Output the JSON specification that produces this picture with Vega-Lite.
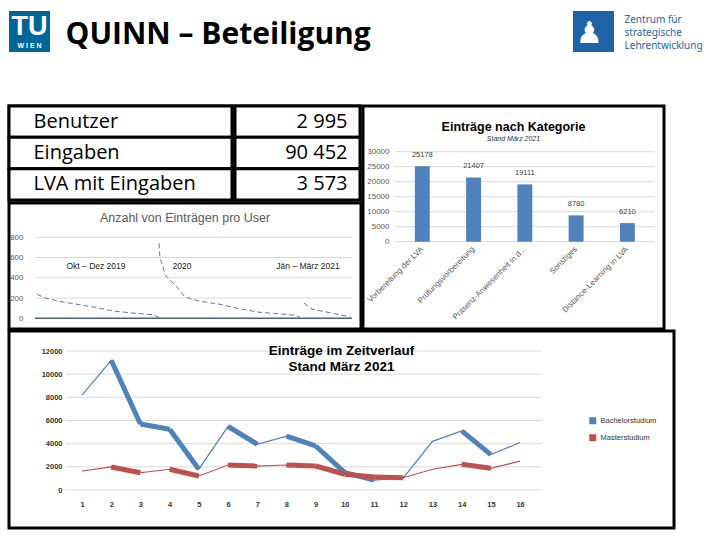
{
  "$schema": "https://vega.github.io/schema/vega-lite/v6.json",
  "background": "white",
  "padding": {"left": 6, "top": 11, "right": 5, "bottom": 5},
  "spacing": 51,
  "config": {
    "view": {"stroke": "black", "strokeWidth": 3},
    "font": "Liberation Sans",
    "axis": {"domain": false, "ticks": false, "tickSize": 0, "grid": false, "title": null, "labelColor": "#595959", "labelOverlap": false, "labelFont": "Liberation Sans"}
  },
  "datasets": {
    "table": [
      {"label": "Benutzer", "value": "2 995"},
      {"label": "Eingaben", "value": "90 452"},
      {"label": "LVA mit Eingaben", "value": "3 573"}
    ],
    "users": [
      {"seg": "Okt – Dez 2019", "rank": 0, "n": 238},
      {"seg": "Okt – Dez 2019", "rank": 8, "n": 201},
      {"seg": "Okt – Dez 2019", "rank": 22, "n": 168},
      {"seg": "Okt – Dez 2019", "rank": 38, "n": 142},
      {"seg": "Okt – Dez 2019", "rank": 58, "n": 109},
      {"seg": "Okt – Dez 2019", "rank": 78, "n": 69},
      {"seg": "Okt – Dez 2019", "rank": 98, "n": 50},
      {"seg": "Okt – Dez 2019", "rank": 115, "n": 36},
      {"seg": "Okt – Dez 2019", "rank": 122, "n": 10},
      {"seg": "2020", "rank": 122, "n": 740},
      {"seg": "2020", "rank": 123, "n": 590},
      {"seg": "2020", "rank": 125, "n": 540},
      {"seg": "2020", "rank": 128, "n": 430},
      {"seg": "2020", "rank": 140, "n": 310},
      {"seg": "2020", "rank": 148, "n": 210},
      {"seg": "2020", "rank": 162, "n": 170},
      {"seg": "2020", "rank": 182, "n": 140},
      {"seg": "2020", "rank": 202, "n": 95},
      {"seg": "2020", "rank": 222, "n": 60},
      {"seg": "2020", "rank": 242, "n": 45},
      {"seg": "2020", "rank": 258, "n": 30},
      {"seg": "2020", "rank": 263, "n": 10},
      {"seg": "Jän – März 2021", "rank": 267, "n": 150},
      {"seg": "Jän – März 2021", "rank": 275, "n": 90},
      {"seg": "Jän – März 2021", "rank": 288, "n": 65},
      {"seg": "Jän – März 2021", "rank": 305, "n": 30},
      {"seg": "Jän – März 2021", "rank": 313, "n": 15}
    ],
    "userLabels": [
      {"label": "Okt – Dez 2019", "rank": 59, "n": 520},
      {"label": "2020", "rank": 145, "n": 520},
      {"label": "Jän – März 2021", "rank": 271, "n": 520}
    ],
    "gridU": [{"g": 0}, {"g": 200}, {"g": 400}, {"g": 600}, {"g": 800}],
    "kat": [
      {"cat": "Vorbereitung der LVA", "val": 25178},
      {"cat": "Prüfungsvorbereitung", "val": 21407},
      {"cat": "Präsenz-Anwesenheit in d...", "val": 19111},
      {"cat": "Sonstiges", "val": 8780},
      {"cat": "Distance-Learning in LVA", "val": 6210}
    ],
    "gridB": [{"g": 0}, {"g": 5000}, {"g": 10000}, {"g": 15000}, {"g": 20000}, {"g": 25000}, {"g": 30000}],
    "gridT": [{"g": 0}, {"g": 2000}, {"g": 4000}, {"g": 6000}, {"g": 8000}, {"g": 10000}, {"g": 12000}],
    "zeit": [
      {"k": 1, "series": "Bachelorstudium", "v": 8200},
      {"k": 2, "series": "Bachelorstudium", "v": 11200},
      {"k": 3, "series": "Bachelorstudium", "v": 5700},
      {"k": 4, "series": "Bachelorstudium", "v": 5250},
      {"k": 5, "series": "Bachelorstudium", "v": 1800},
      {"k": 6, "series": "Bachelorstudium", "v": 5500},
      {"k": 7, "series": "Bachelorstudium", "v": 3950},
      {"k": 8, "series": "Bachelorstudium", "v": 4650},
      {"k": 9, "series": "Bachelorstudium", "v": 3800},
      {"k": 10, "series": "Bachelorstudium", "v": 1500},
      {"k": 11, "series": "Bachelorstudium", "v": 850},
      {"k": 12, "series": "Bachelorstudium", "v": 1050},
      {"k": 13, "series": "Bachelorstudium", "v": 4200},
      {"k": 14, "series": "Bachelorstudium", "v": 5100},
      {"k": 15, "series": "Bachelorstudium", "v": 3050},
      {"k": 16, "series": "Bachelorstudium", "v": 4100},
      {"k": 1, "series": "Masterstudium", "v": 1640},
      {"k": 2, "series": "Masterstudium", "v": 1990},
      {"k": 3, "series": "Masterstudium", "v": 1490},
      {"k": 4, "series": "Masterstudium", "v": 1790},
      {"k": 5, "series": "Masterstudium", "v": 1210},
      {"k": 6, "series": "Masterstudium", "v": 2160},
      {"k": 7, "series": "Masterstudium", "v": 2070},
      {"k": 8, "series": "Masterstudium", "v": 2160},
      {"k": 9, "series": "Masterstudium", "v": 2070},
      {"k": 10, "series": "Masterstudium", "v": 1360},
      {"k": 11, "series": "Masterstudium", "v": 1120},
      {"k": 12, "series": "Masterstudium", "v": 1060},
      {"k": 13, "series": "Masterstudium", "v": 1790},
      {"k": 14, "series": "Masterstudium", "v": 2220},
      {"k": 15, "series": "Masterstudium", "v": 1870},
      {"k": 16, "series": "Masterstudium", "v": 2500}
    ]
  },
  "vconcat": [
    {
      "hconcat": [
        {
          "width": 41, "height": 41,
          "view": {"fill": "#006699", "stroke": null},
          "data": {"values": [{"a": "TU", "b": "W I E N"}]},
          "layer": [
            {"mark": {"type": "text", "color": "white", "font": "Liberation Sans", "fontWeight": "bold", "fontSize": 27, "baseline": "alphabetic", "dy": 3}, "encoding": {"text": {"field": "a"}}},
            {"mark": {"type": "text", "color": "white", "font": "Liberation Sans", "fontWeight": "bold", "fontSize": 7, "baseline": "alphabetic", "dy": 16}, "encoding": {"text": {"field": "b"}}}
          ]
        },
        {
          "width": 503, "height": 41,
          "view": {"stroke": null},
          "data": {"values": [{"t": "QUINN – Beteiligung"}]},
          "mark": {"type": "text", "align": "left", "baseline": "alphabetic", "dx": -246, "dy": 12, "font": "Open Sans", "fontWeight": "bold", "fontSize": 30, "color": "black"},
          "encoding": {"text": {"field": "t"}}
        },
        {
          "width": 41, "height": 41,
          "view": {"fill": "#1d63a6", "stroke": null},
          "data": {"values": [{"t": "♟"}]},
          "mark": {"type": "text", "color": "white", "font": "DejaVu Sans", "fontSize": 30, "baseline": "middle", "dx": -4, "dy": 2},
          "encoding": {"text": {"field": "t"}}
        },
        {
          "width": 85, "height": 41,
          "view": {"stroke": null},
          "data": {"values": [{"t": "Zentrum für\nstrategische\nLehrentwicklung"}]},
          "mark": {"type": "text", "align": "left", "baseline": "middle", "lineBreak": "\n", "lineHeight": 13, "dx": -45, "dy": -12, "font": "Noto Sans", "fontSize": 10, "color": "#1d63a6"},
          "encoding": {"text": {"field": "t"}}
        }
      ],
      "spacing": 10
    },
    {
      "vconcat": [
        {
          "hconcat": [
            {
              "vconcat": [
                {
                  "hconcat": [
                    {
                      "width": 223, "height": 94,
                      "data": {"name": "table"},
                      "layer": [
                        {"mark": {"type": "rect", "fill": "white", "stroke": "black", "strokeWidth": 3},
                         "encoding": {"y": {"field": "label", "type": "nominal", "sort": null, "axis": null, "scale": {"paddingInner": 0, "paddingOuter": 0}}}},
                        {"mark": {"type": "text", "align": "left", "baseline": "middle", "dx": -87, "font": "Open Sans", "fontSize": 20, "color": "black"},
                         "encoding": {"y": {"field": "label", "type": "nominal", "sort": null, "axis": null}, "text": {"field": "label"}}}
                      ]
                    },
                    {
                      "width": 125, "height": 94,
                      "data": {"name": "table"},
                      "layer": [
                        {"mark": {"type": "rect", "fill": "white", "stroke": "black", "strokeWidth": 3},
                         "encoding": {"y": {"field": "label", "type": "nominal", "sort": null, "axis": null, "scale": {"paddingInner": 0, "paddingOuter": 0}}}},
                        {"mark": {"type": "text", "align": "right", "baseline": "middle", "dx": 50, "font": "Open Sans", "fontSize": 20, "color": "black"},
                         "encoding": {"y": {"field": "label", "type": "nominal", "sort": null, "axis": null}, "text": {"field": "value"}}}
                      ]
                    }
                  ],
                  "spacing": -3
                },
                {
                  "width": 352, "height": 126,
                  "title": {"text": "Anzahl von Einträgen pro User", "font": "Liberation Sans", "fontSize": 12.5, "fontWeight": "normal", "color": "#595959", "offset": -21, "anchor": "middle"},
                  "layer": [
                    {
                      "data": {"name": "gridU"},
                      "mark": {"type": "rule", "color": "#d9d9d9", "strokeWidth": 1},
                      "encoding": {
                        "y": {"field": "g", "type": "quantitative", "scale": {"domain": [-105.7, 1138.8], "nice": false, "zero": false}, "axis": {"values": [0, 200, 400, 600, 800], "format": "d", "offset": -14, "labelPadding": 0, "labelFontSize": 8, "labelOverlap": false, "labelBound": false}},
                        "x": {"datum": -2, "type": "quantitative", "scale": {"domain": [-28, 324], "nice": false, "zero": false}, "axis": null},
                        "x2": {"datum": 315}
                      }
                    },
                    {
                      "data": {"name": "users"},
                      "mark": {"type": "line", "color": "#5a7a96", "strokeWidth": 1, "strokeDash": [5, 3]},
                      "encoding": {
                        "x": {"field": "rank", "type": "quantitative", "scale": {"domain": [-28, 324], "nice": false, "zero": false}, "axis": null},
                        "y": {"field": "n", "type": "quantitative", "scale": {"domain": [-105.7, 1138.8], "nice": false, "zero": false}, "axis": {"values": [0, 200, 400, 600, 800], "format": "d", "offset": -14, "labelPadding": 0, "labelFontSize": 8, "labelOverlap": false, "labelBound": false}},
                        "detail": {"field": "seg"}
                      }
                    },
                    {
                      "data": {"values": [{"z": 0}]},
                      "mark": {"type": "rule", "color": "#4d6478", "strokeWidth": 1.5},
                      "encoding": {
                        "y": {"field": "z", "type": "quantitative", "scale": {"domain": [-105.7, 1138.8], "nice": false, "zero": false}, "axis": {"values": [0, 200, 400, 600, 800], "format": "d", "offset": -14, "labelPadding": 0, "labelFontSize": 8, "labelOverlap": false, "labelBound": false}},
                        "x": {"datum": -2, "type": "quantitative", "scale": {"domain": [-28, 324], "nice": false, "zero": false}, "axis": null},
                        "x2": {"datum": 315}
                      }
                    },
                    {
                      "data": {"name": "userLabels"},
                      "mark": {"type": "text", "fontSize": 8.5, "color": "#222222", "baseline": "middle"},
                      "encoding": {
                        "x": {"field": "rank", "type": "quantitative", "scale": {"domain": [-28, 324], "nice": false, "zero": false}, "axis": null},
                        "y": {"field": "n", "type": "quantitative", "scale": {"domain": [-105.7, 1138.8], "nice": false, "zero": false}, "axis": {"values": [0, 200, 400, 600, 800], "format": "d", "offset": -14, "labelPadding": 0, "labelFontSize": 8, "labelOverlap": false, "labelBound": false}},
                        "text": {"field": "label"}
                      }
                    }
                  ]
                }
              ],
              "spacing": -3
            },
            {
              "width": 301, "height": 223,
              "title": {"text": "Einträge nach Kategorie", "subtitle": "Stand März 2021", "font": "Liberation Sans", "fontSize": 12.5, "fontWeight": "bold", "color": "black", "subtitleFont": "Liberation Sans", "subtitleFontSize": 7, "subtitleFontStyle": "italic", "subtitleColor": "#333333", "subtitlePadding": 2, "offset": -36, "anchor": "middle"},
              "layer": [
                {
                  "data": {"name": "gridB"},
                  "mark": {"type": "rule", "color": "#d9d9d9", "strokeWidth": 1},
                  "encoding": {
                    "y": {"field": "g", "type": "quantitative", "scale": {"domain": [-29100, 45233], "nice": false, "zero": false}, "axis": {"values": [0, 5000, 10000, 15000, 20000, 25000, 30000], "format": "d", "offset": -26, "labelPadding": 0, "labelFontSize": 8, "labelOverlap": false, "labelBound": false}},
                    "x": {"datum": "Vorbereitung der LVA", "type": "nominal", "bandPosition": -1.33, "scale": {"domain": ["Vorbereitung der LVA", "Prüfungsvorbereitung", "Präsenz-Anwesenheit in d...", "Sonstiges", "Distance-Learning in LVA"], "paddingInner": 0.709, "paddingOuter": 0.79, "align": 0.64}},
                    "x2": {"datum": "Distance-Learning in LVA", "bandPosition": 2.33}
                  }
                },
                {
                  "data": {"name": "kat"},
                  "mark": {"type": "bar", "color": "#4f81bd"},
                  "encoding": {
                    "x": {"field": "cat", "type": "nominal", "sort": null, "scale": {"domain": ["Vorbereitung der LVA", "Prüfungsvorbereitung", "Präsenz-Anwesenheit in d...", "Sonstiges", "Distance-Learning in LVA"], "paddingInner": 0.709, "paddingOuter": 0.79, "align": 0.64}, "axis": {"labelAngle": -45, "offset": -84.3, "labelPadding": 3, "labelFontSize": 8, "labelLimit": 200}},
                    "y": {"field": "val", "type": "quantitative", "scale": {"domain": [-29100, 45233], "nice": false, "zero": false}, "axis": {"values": [0, 5000, 10000, 15000, 20000, 25000, 30000], "format": "d", "offset": -26, "labelPadding": 0, "labelFontSize": 8, "labelOverlap": false, "labelBound": false}}
                  }
                },
                {
                  "data": {"name": "kat"},
                  "mark": {"type": "text", "fontSize": 7.5, "color": "#404040", "baseline": "middle", "dy": -11},
                  "encoding": {
                    "x": {"field": "cat", "type": "nominal", "sort": null},
                    "y": {"field": "val", "type": "quantitative", "axis": {"values": [0, 5000, 10000, 15000, 20000, 25000, 30000], "format": "d", "offset": -26, "labelPadding": 0, "labelFontSize": 8, "labelOverlap": false, "labelBound": false}},
                    "text": {"field": "val", "type": "quantitative", "format": "d"}
                  }
                }
              ]
            }
          ],
          "spacing": -3
        },
        {
          "width": 665, "height": 197,
          "title": {"text": ["Einträge im Zeitverlauf", "Stand März 2021"], "font": "Liberation Sans", "fontSize": 13.5, "lineHeight": 16, "fontWeight": "bold", "color": "black", "offset": -42, "anchor": "middle"},
          "layer": [
            {
              "data": {"name": "gridT"},
              "mark": {"type": "rule", "color": "#d9d9d9", "strokeWidth": 1},
              "encoding": {
                "y": {"field": "g", "type": "quantitative", "scale": {"domain": [-3280, 13726.6], "nice": false, "zero": false}, "axis": {"values": [0, 2000, 4000, 6000, 8000, 10000, 12000], "format": "d", "offset": -53, "labelPadding": 0, "labelFontSize": 7.5, "labelFontWeight": "bold", "labelColor": "#333333", "labelOverlap": false, "labelBound": false}},
                "x": {"datum": 0.45, "type": "quantitative", "scale": {"domain": [-1.5, 21.27], "nice": false, "zero": false}},
                "x2": {"datum": 16.75}
              }
            },
            {
              "data": {"name": "zeit"},
              "mark": {"type": "line", "strokeWidth": 1.2},
              "encoding": {
                "x": {"field": "k", "type": "quantitative", "scale": {"domain": [-1.5, 21.27], "nice": false, "zero": false}, "axis": {"values": [1, 2, 3, 4, 5, 6, 7, 8, 9, 10, 11, 12, 13, 14, 15, 16], "format": "d", "offset": -38, "labelPadding": 10, "labelFontSize": 7.5, "labelFontWeight": "bold", "labelColor": "#333333", "labelOverlap": false}},
                "y": {"field": "v", "type": "quantitative", "scale": {"domain": [-3280, 13726.6], "nice": false, "zero": false}, "axis": {"values": [0, 2000, 4000, 6000, 8000, 10000, 12000], "format": "d", "offset": -53, "labelPadding": 0, "labelFontSize": 7.5, "labelFontWeight": "bold", "labelColor": "#333333", "labelOverlap": false, "labelBound": false}},
                "color": {"field": "series", "type": "nominal", "scale": {"domain": ["Bachelorstudium", "Masterstudium"], "range": ["#4f81bd", "#c0504d"]},
                  "legend": {"orient": "none", "legendX": 580, "legendY": 406, "title": null, "symbolType": "square", "symbolSize": 30, "labelFont": "Liberation Sans", "labelFontSize": 7.5, "labelColor": "#333333", "rowPadding": 5,
                    "encode": {"symbols": {"update": {"fill": {"scale": "color", "field": "value"}, "stroke": {"value": "transparent"}}}}}}
              }
            },
            {
              "data": {"name": "zeit"},
              "transform": [
                {"window": [{"op": "lead", "field": "v", "as": "nv"}, {"op": "lead", "field": "k", "as": "nk"}], "groupby": ["series"], "sort": [{"field": "k", "order": "ascending"}]},
                {"filter": "datum.nv != null && datum.nv < datum.v"}
              ],
              "mark": {"type": "rule", "strokeWidth": 5, "strokeCap": "butt"},
              "encoding": {
                "x": {"field": "k", "type": "quantitative", "axis": {"values": [1, 2, 3, 4, 5, 6, 7, 8, 9, 10, 11, 12, 13, 14, 15, 16], "format": "d", "offset": -38, "labelPadding": 10, "labelFontSize": 7.5, "labelFontWeight": "bold", "labelColor": "#333333", "labelOverlap": false}},
                "x2": {"field": "nk"},
                "y": {"field": "v", "type": "quantitative", "axis": {"values": [0, 2000, 4000, 6000, 8000, 10000, 12000], "format": "d", "offset": -53, "labelPadding": 0, "labelFontSize": 7.5, "labelFontWeight": "bold", "labelColor": "#333333", "labelOverlap": false, "labelBound": false}},
                "y2": {"field": "nv"},
                "color": {"field": "series", "type": "nominal"}
              }
            }
          ]
        }
      ],
      "spacing": -3
    }
  ]
}
